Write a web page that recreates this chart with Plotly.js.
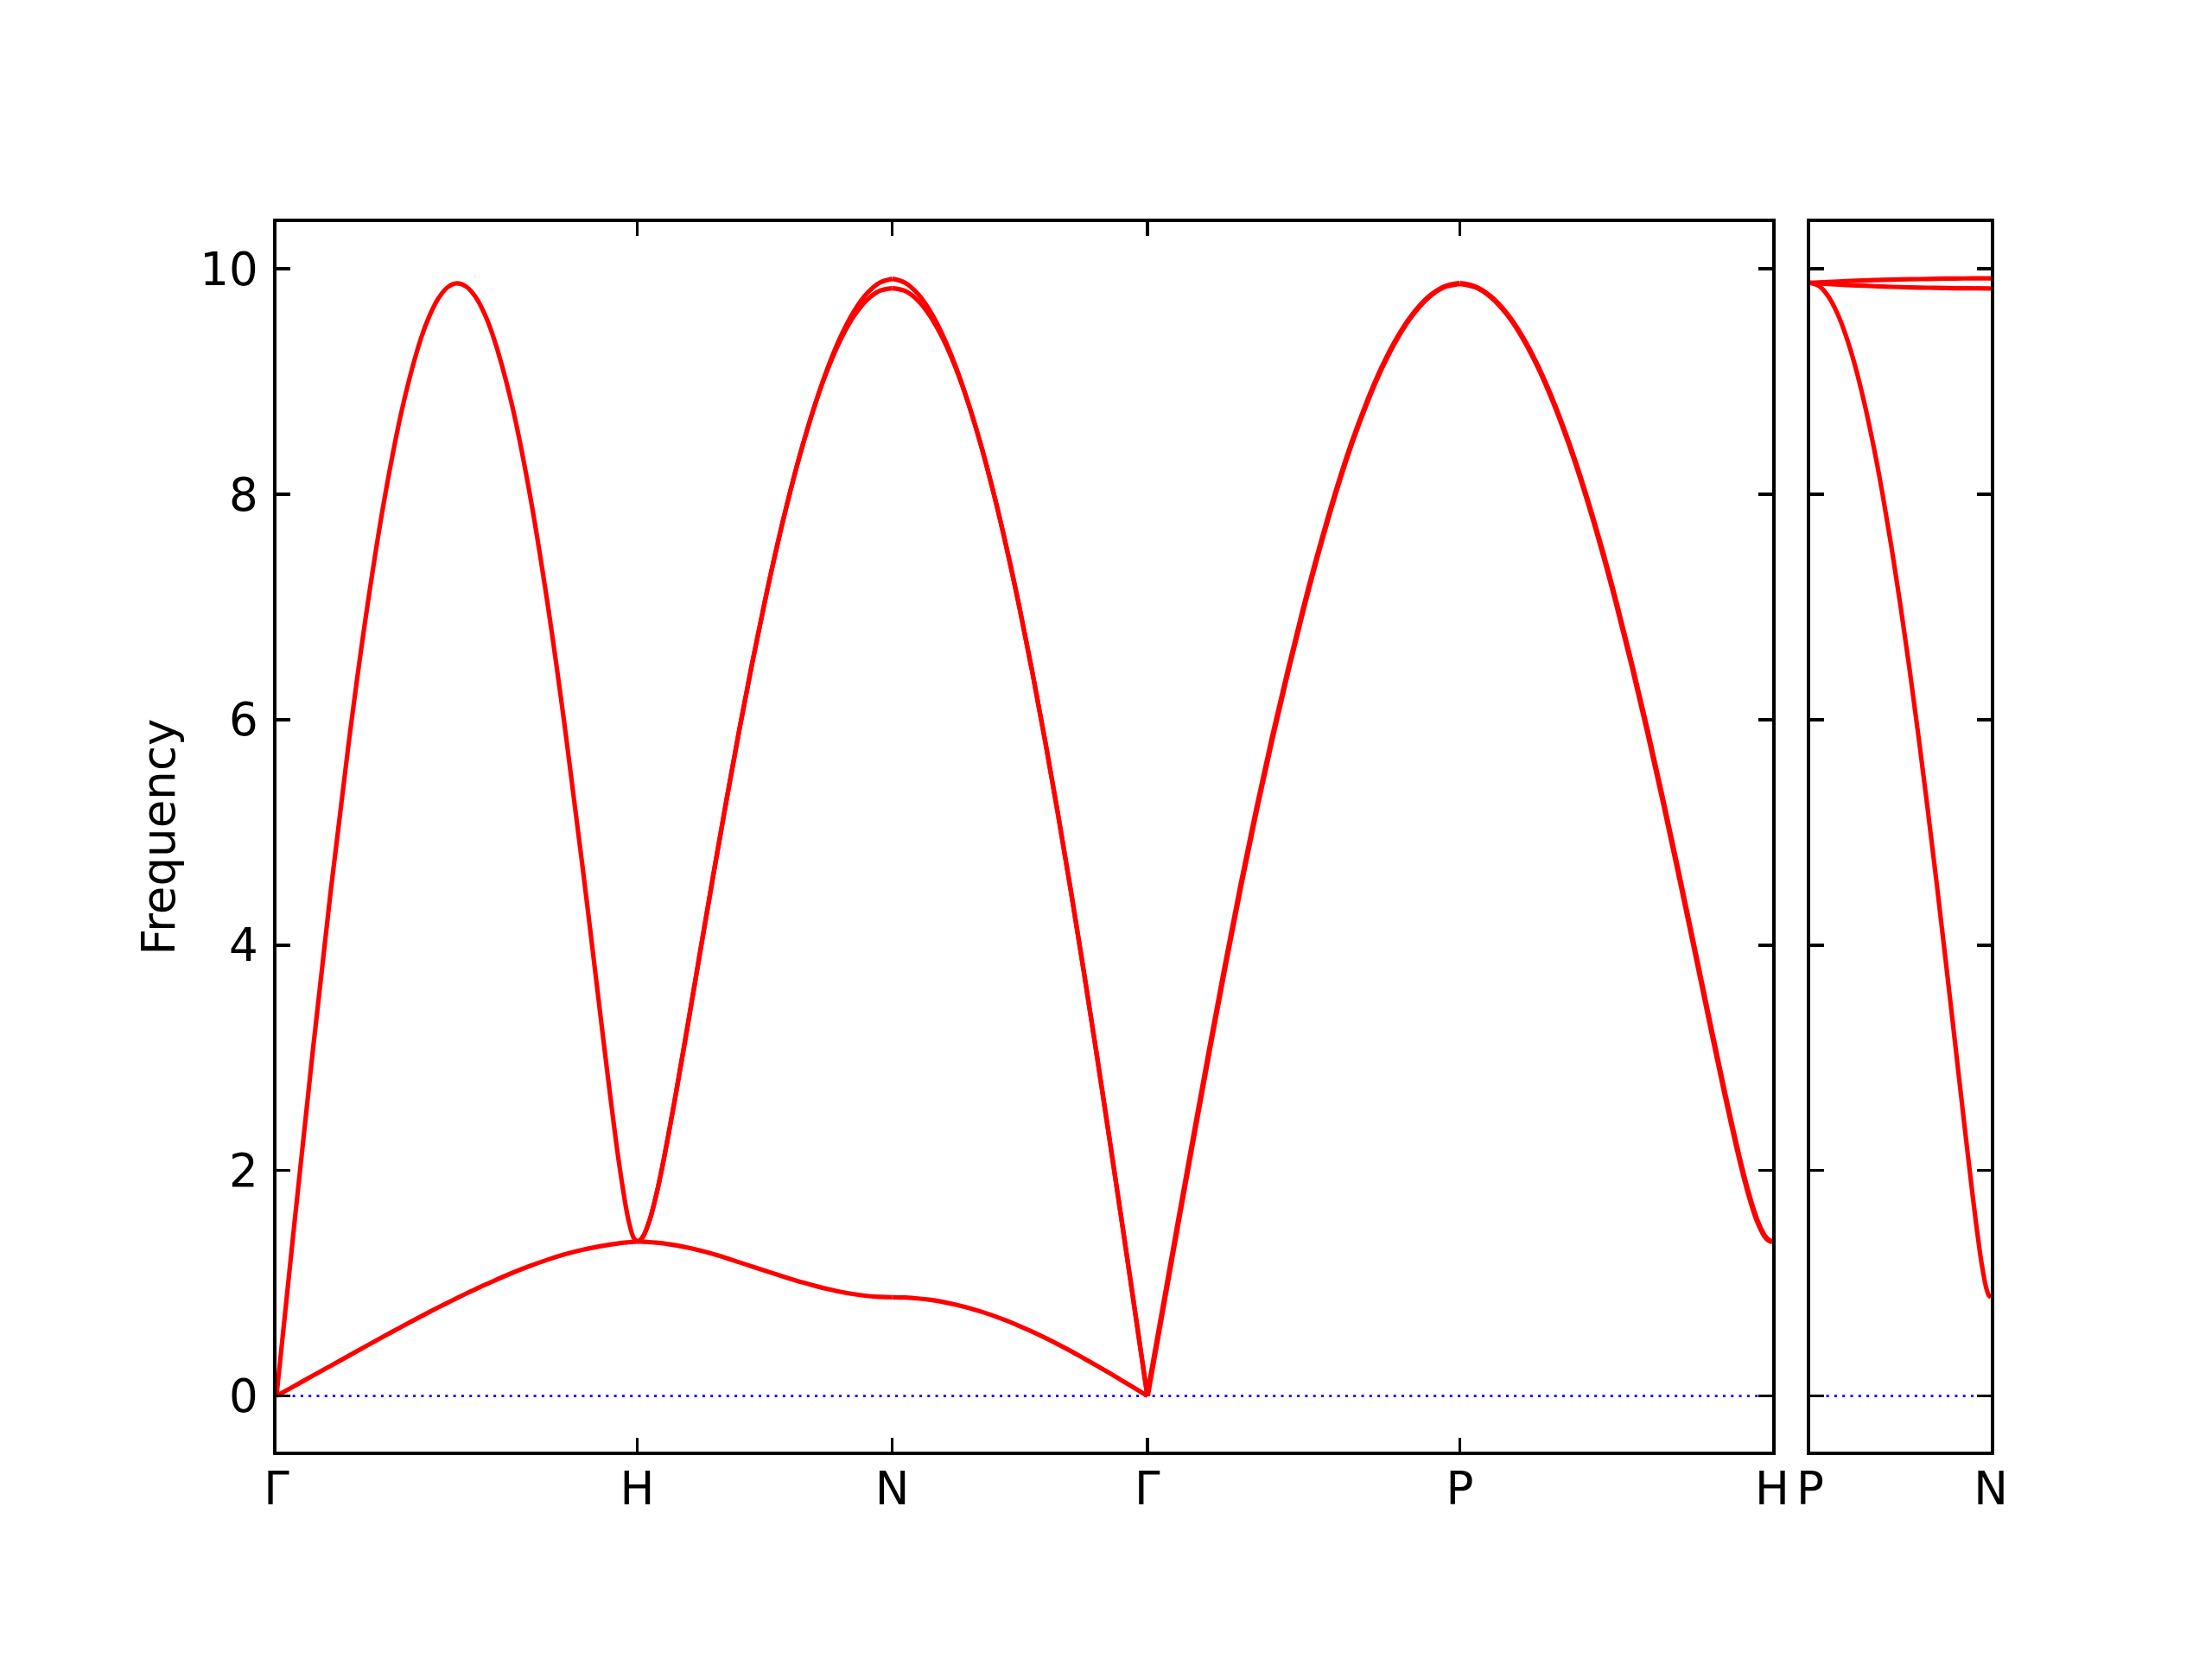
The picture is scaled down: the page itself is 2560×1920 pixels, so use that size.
<!DOCTYPE html>
<html><head><meta charset="utf-8">
<script src="https://cdn.plot.ly/plotly-3.0.1.min.js"></script>
<style>html,body{margin:0;padding:0;background:#fff;} #chart{width:2560px;height:1920px;}</style>
</head><body><div id="chart"></div>
<script>
// High-symmetry points along the path (panel 1) and the side panel
const kPosMain = [0, 1.0, 1.7071, 2.4142, 3.2802, 4.1463];
const kLabelMain = ['Γ', 'H', 'N', 'Γ', 'P', 'H'];
const kPosSide = [0, 0.5];
const kLabelSide = ['P', 'N'];
const yTickVals = [0, 2, 4, 6, 8, 10];
const yRange = [-0.494, 10.415];

// Segment Γ–H (fractions along the segment)
const fracGH = [0,0.05,0.1,0.15,0.2,0.25,0.3,0.35,0.4,0.425,0.45,0.475,0.5,0.525,0.55,0.575,0.6,0.65,0.7,0.75,0.8,0.85,0.9,0.925,0.95,0.975,0.99,1];
const GH_upper = [0,1.541,3.043,4.471,5.790,6.967,7.972,8.782,9.378,9.590,9.744,9.838,9.872,9.845,9.759,9.613,9.408,8.831,8.041,7.061,5.919,4.655,3.324,2.667,2.056,1.571,1.404,1.370];
const GH_lower = [0,0.089,0.178,0.267,0.356,0.445,0.533,0.62,0.705,0.747,0.788,0.828,0.868,0.907,0.945,0.982,1.018,1.087,1.15,1.207,1.257,1.298,1.33,1.343,1.354,1.363,1.368,1.37];

// Segment H–N
const fracHN = [0,0.01,0.025,0.05,0.075,0.1,0.15,0.2,0.25,0.3,0.35,0.4,0.45,0.5,0.55,0.6,0.65,0.7,0.75,0.8,0.85,0.9,0.95,1];
const HN_upper1 = [1.370,1.379,1.423,1.570,1.788,2.053,2.662,3.317,3.984,4.644,5.288,5.907,6.494,7.046,7.558,8.026,8.446,8.816,9.141,9.411,9.625,9.780,9.876,9.912];
const HN_upper2 = [1.370,1.379,1.423,1.570,1.788,2.053,2.662,3.317,3.984,4.644,5.288,5.907,6.494,7.046,7.558,8.026,8.446,8.816,9.127,9.383,9.582,9.723,9.805,9.828];
const HN_lower = [1.370,1.370,1.368,1.364,1.360,1.355,1.337,1.315,1.288,1.258,1.224,1.186,1.149,1.112,1.075,1.040,1.006,0.975,0.947,0.922,0.903,0.888,0.879,0.876];

// Segment N–Γ
const fracNG = [0,0.05,0.1,0.15,0.2,0.25,0.3,0.35,0.4,0.45,0.5,0.55,0.6,0.65,0.7,0.75,0.8,0.85,0.9,0.95,1];
const NG_upper1 = [9.912,9.876,9.778,9.619,9.401,9.126,8.794,8.416,7.985,7.505,6.979,6.410,5.801,5.157,4.481,3.777,3.050,2.304,1.544,0.774,0];
const NG_upper2 = [9.828,9.805,9.721,9.576,9.373,9.112,8.794,8.416,7.985,7.505,6.979,6.410,5.801,5.157,4.481,3.777,3.050,2.304,1.544,0.774,0];
const NG_lower = [0.876,0.873,0.865,0.852,0.833,0.809,0.781,0.747,0.709,0.666,0.619,0.569,0.515,0.458,0.398,0.335,0.271,0.205,0.137,0.069,0];

// Segment Γ–P (three degenerate branches)
const fracGP = [0,0.05,0.1,0.15,0.2,0.25,0.3,0.35,0.4,0.45,0.5,0.55,0.6,0.65,0.7,0.75,0.8,0.85,0.9,0.95,1];
const GP_band = [0,0.78,1.56,2.33,3.09,3.83,4.54,5.21,5.84,6.43,6.99,7.51,7.99,8.42,8.795,9.12,9.387,9.597,9.749,9.840,9.870];

// Segment P–H (three degenerate branches)
const fracPH = [0,0.05,0.1,0.15,0.2,0.25,0.3,0.35,0.4,0.45,0.5,0.55,0.6,0.65,0.7,0.75,0.8,0.85,0.9,0.925,0.95,0.975,0.99,1];
const PH_band = [9.870,9.840,9.751,9.603,9.397,9.134,8.816,8.446,8.026,7.558,7.046,6.494,5.907,5.288,4.644,3.984,3.317,2.662,2.053,1.788,1.570,1.423,1.379,1.370];

// Side panel P–N
const fracPN = [0,0.05,0.1,0.15,0.2,0.25,0.3,0.35,0.4,0.45,0.5,0.55,0.6,0.65,0.7,0.75,0.8,0.85,0.9,0.925,0.95,0.975,0.99,1];
const PN_lower = [9.876,9.846,9.756,9.606,9.397,9.131,8.808,8.433,8.007,7.531,7.011,6.449,5.848,5.214,4.552,3.865,3.164,2.458,1.771,1.451,1.167,0.957,0.889,0.876];
const fracPNflat = [0,0.1,0.2,0.3,0.4,0.5,0.6,0.7,0.8,0.9,1];
const PN_flat1 = [9.876,9.884,9.891,9.897,9.902,9.906,9.909,9.912,9.914,9.915,9.915];
const PN_flat2 = [9.876,9.866,9.857,9.850,9.843,9.838,9.834,9.831,9.828,9.827,9.826];

// Zero reference line
const zeroLine = [0, 0];

const RED = '#ff0000';
const LW = 5.2;
function seg(k0, k1, frac, vals, xa, ya, w) {
  return {
    type: 'scatter', mode: 'lines',
    x: frac.map(f => k0 + f * (k1 - k0)), y: vals,
    xaxis: xa, yaxis: ya,
    line: {color: RED, width: w || LW, shape: 'spline', smoothing: 1},
    hoverinfo: 'skip', showlegend: false
  };
}

const dotLine = {color: '#0000ff', width: 2.8, dash: '3px,6.3px'};
const traces = [
  {type:'scatter', mode:'lines', x:[kPosMain[0], kPosMain[5]], y:zeroLine, xaxis:'x', yaxis:'y', line:dotLine, showlegend:false, hoverinfo:'skip'},
  {type:'scatter', mode:'lines', x:[kPosSide[0], kPosSide[1]], y:zeroLine, xaxis:'x2', yaxis:'y2', line:dotLine, showlegend:false, hoverinfo:'skip'},
  seg(kPosMain[0], kPosMain[1], fracGH, GH_upper, 'x', 'y'),
  seg(kPosMain[0], kPosMain[1], fracGH, GH_lower, 'x', 'y'),
  seg(kPosMain[1], kPosMain[2], fracHN, HN_upper1, 'x', 'y'),
  seg(kPosMain[1], kPosMain[2], fracHN, HN_upper2, 'x', 'y'),
  seg(kPosMain[1], kPosMain[2], fracHN, HN_lower, 'x', 'y'),
  seg(kPosMain[2], kPosMain[3], fracNG, NG_upper1, 'x', 'y'),
  seg(kPosMain[2], kPosMain[3], fracNG, NG_upper2, 'x', 'y'),
  seg(kPosMain[2], kPosMain[3], fracNG, NG_lower, 'x', 'y'),
  seg(kPosMain[3], kPosMain[4], fracGP, GP_band, 'x', 'y', 6.2),
  seg(kPosMain[4], kPosMain[5], fracPH, PH_band, 'x', 'y', 6.2),
  seg(kPosSide[0], kPosSide[1], fracPN, PN_lower, 'x2', 'y2'),
  seg(kPosSide[0], kPosSide[1], fracPNflat, PN_flat1, 'x2', 'y2'),
  seg(kPosSide[0], kPosSide[1], fracPNflat, PN_flat2, 'x2', 'y2')
];

const FONT = {family: 'DejaVu Sans', size: 53, color: '#000'};
const axCommon = {
  showline: true, linecolor: '#000', linewidth: 3.6, mirror: 'ticks',
  ticks: 'inside', ticklen: 16, tickwidth: 3.6, tickcolor: '#000',
  showgrid: false, zeroline: false, tickfont: FONT, fixedrange: true
};
const PW = 2560 - 320 - 256;
const layout = {
  width: 2560, height: 1920,
  margin: {l: 320, r: 256, t: 257, b: 240, pad: 0},
  paper_bgcolor: '#fff', plot_bgcolor: '#fff',
  font: FONT,
  showlegend: false,
  xaxis: Object.assign({}, axCommon, {
    domain: [0, (2051 - 320) / PW], range: [kPosMain[0], kPosMain[5]],
    tickmode: 'array', tickvals: kPosMain, ticktext: kLabelMain, anchor: 'y',
    ticklabelstandoff: -6
  }),
  yaxis: Object.assign({}, axCommon, {
    domain: [0, 1], range: yRange, tickmode: 'array', tickvals: yTickVals,
    ticktext: yTickVals.map(String), anchor: 'x',
    ticklabelstandoff: 7,
    title: {text: 'Frequency', font: FONT, standoff: 13}
  }),
  xaxis2: Object.assign({}, axCommon, {
    domain: [(2095 - 320) / PW, 1], range: [kPosSide[0], kPosSide[1]],
    tickmode: 'array', tickvals: kPosSide, ticktext: kLabelSide, anchor: 'y2',
    ticklabelstandoff: -6
  }),
  yaxis2: Object.assign({}, axCommon, {
    domain: [0, 1], range: yRange, tickmode: 'array', tickvals: yTickVals,
    showticklabels: false, anchor: 'x2'
  })
};

Plotly.newPlot('chart', traces, layout, {displayModeBar: false, staticPlot: true});
</script>
</body></html>
